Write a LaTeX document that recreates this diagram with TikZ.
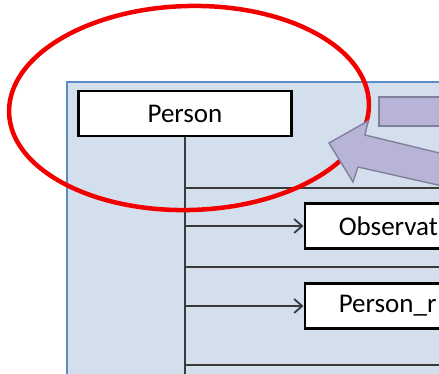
\documentclass[tikz,border=0pt]{standalone}
\usepackage{fontspec}
\setmainfont{Carlito}
\usetikzlibrary{arrows.meta}
\definecolor{panelfill}{HTML}{D4DFEE}
\definecolor{panelblue}{HTML}{5B8CC9}
\definecolor{lilac}{HTML}{B8B4D7}
\definecolor{lilacedge}{HTML}{80809A}
\definecolor{linegray}{HTML}{3A3A3A}
\definecolor{ringred}{HTML}{F20000}
\tikzset{
  entbox/.style={draw=black, fill=white, line width=2.6pt, minimum height=45pt,
    inner sep=0pt, font=\fontsize{27}{27}\selectfont},
  conn/.style={draw=linegray, line width=1.8pt},
  arr/.style={conn, -{Straight Barb[length=8pt,width=14pt,line width=1.8pt]}},
}
\begin{document}
\begin{tikzpicture}[x=1pt,y=-1pt]
\useasboundingbox (0,0) rectangle (439,374);
\clip (0,0) rectangle (439,374);
% panel
\filldraw[fill=panelfill, draw=panelblue, line width=2pt] (67,82) rectangle (470,400);
% Person box
\node[entbox, minimum width=213pt] (person) at (185,113.5) {Person};
\coordinate (bot) at (185,390);
\draw[conn] (person.south) -- (bot);
% horizontal lines
\coordinate (h1a) at (185,188); \coordinate (h1b) at (460,188);
\coordinate (h2a) at (185,267); \coordinate (h2b) at (460,267);
\coordinate (h3a) at (185,365); \coordinate (h3b) at (460,365);
\draw[conn] (h1a) -- (h1b);
\draw[conn] (h2a) -- (h2b);
\draw[conn] (h3a) -- (h3b);
% child boxes
\node[entbox, anchor=west, text width=200pt, inner xsep=34pt, align=left] (obs) at (303.5,226) {Observat};
\node[entbox, anchor=west, text width=200pt, inner xsep=34pt, align=left] (pref) at (303.5,306) {Person\_r};
\coordinate (a1) at (185,226);
\coordinate (a2) at (185,306);
\draw[arr] (a1) -- (obs.west);
\draw[arr] (a2) -- (pref.west);
% red ellipse
\draw[ringred, line width=4.5pt] (189,108) ellipse [x radius=180, y radius=102, rotate=1.5];
% lilac rectangle and arrow
\filldraw[fill=lilac, draw=lilacedge, line width=1.4pt] (379,97) rectangle (460,126);
\filldraw[fill=lilac, draw=lilacedge, line width=1.4pt, line join=miter]
  (329,143) -- (368,121) -- (365,135) -- (460,158) -- (460,190) -- (358,167) -- (353,182) -- cycle;
\end{tikzpicture}
\end{document}
